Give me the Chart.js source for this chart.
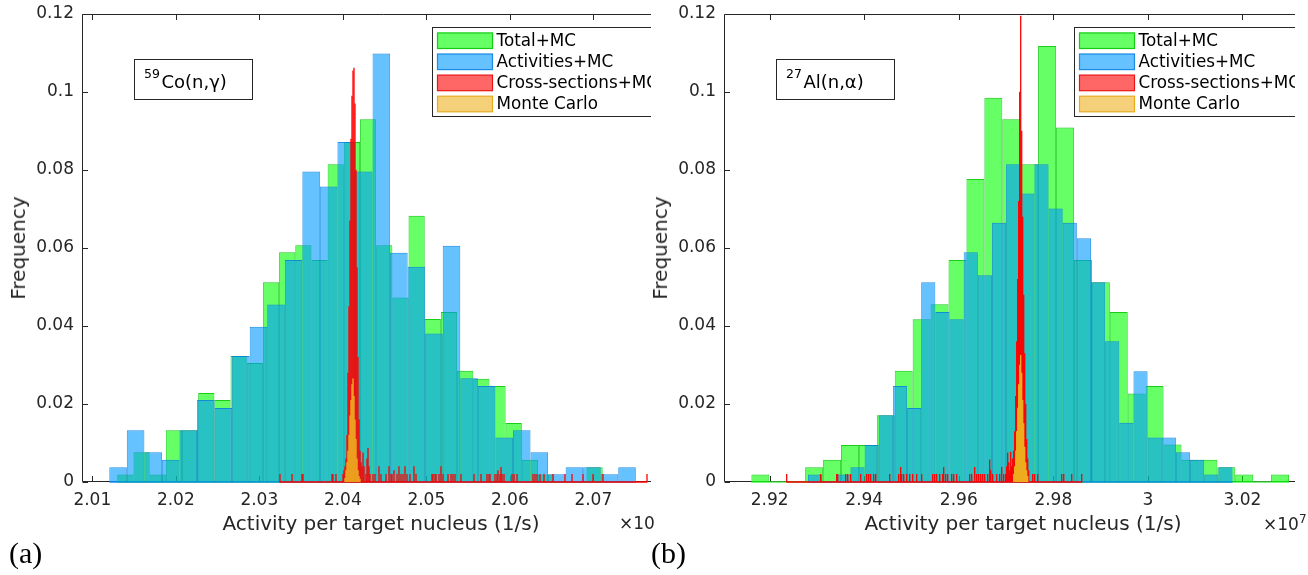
<!DOCTYPE html>
<html>
<head>
<meta charset="utf-8">
<title>Activity per target nucleus histograms</title>
<script src="https://cdn.jsdelivr.net/npm/chart.js@4.4.1/dist/chart.umd.min.js"></script>
<style>
html,body{margin:0;padding:0;background:#fff;width:1308px;height:575px;overflow:hidden;position:relative;font-family:"DejaVu Sans",sans-serif;color:#262626}
.panel{position:absolute;top:0;height:575px;overflow:hidden}
#pa{left:0;width:651px}
#pb{left:642px;width:653px}
canvas{display:block}
.ylab{position:absolute;font-size:20px;white-space:nowrap;transform:translate(-50%,-50%) rotate(-90deg)}
.xlab{position:absolute;font-size:20px;white-space:nowrap;transform:translate(-50%,-50%)}
.expo{position:absolute;font-size:17px;white-space:nowrap;transform:translateY(-50%)}
.expo sup{font-size:12px}
.tag{position:absolute;font-family:"Liberation Serif",serif;font-size:30px;color:#000;transform:translateY(-50%)}
</style>
</head>
<body>
<div class="panel" id="pa"><canvas id="ca" width="700" height="575"></canvas></div>
<div class="panel" id="pb"><canvas id="cb" width="700" height="575"></canvas></div>
<div class="ylab" style="left:18px;top:248px">Frequency</div>
<div class="ylab" style="left:660px;top:248px">Frequency</div>
<div class="xlab" style="left:381px;top:523px">Activity per target nucleus (1/s)</div>
<div class="xlab" style="left:1023px;top:523px">Activity per target nucleus (1/s)</div>
<div class="expo" style="left:619px;top:523px">×10</div>
<div class="expo" style="left:1263px;top:523px">×10<sup>7</sup></div>
<div class="tag" style="left:9px;top:553px">(a)</div>
<div class="tag" style="left:651px;top:553px">(b)</div>
<script>
// ---------------- DATA ----------------
const legendLabels = ['Total+MC', 'Activities+MC', 'Cross-sections+MC', 'Monte Carlo'];
const freqTicks = [0, 0.02, 0.04, 0.06, 0.08, 0.1, 0.12];

// Panel (a): 59Co(n,gamma)
const coXTicks = [2.01, 2.02, 2.03, 2.04, 2.05, 2.06, 2.07];
const coXRange = [2.008766, 2.080383];
const coTotalStart = 2.012994, coTotalWidth = 0.0019377;
const coTotalFreq = [0.0019, 0.0076, 0.0019, 0.0133, 0.0133, 0.0228, 0.0210, 0.0323, 0.0305, 0.0512,
                     0.0589, 0.0607, 0.0569, 0.0815, 0.0872, 0.0930, 0.0607, 0.0473, 0.0683, 0.0418,
                     0.0436, 0.0285, 0.0265, 0.0246, 0.0151, 0.0057, 0.0019, 0, 0, 0.0038];
const coActStart = 2.012036, coActWidth = 0.0021018;
const coActFreq = [0.0038, 0.0133, 0.0076, 0.0057, 0.0133, 0.0210, 0.0190, 0.0323, 0.0398, 0.0455,
                   0.0569, 0.0796, 0.0758, 0.0872, 0.0796, 0.1099, 0.0588, 0.0552, 0.0381, 0.0606,
                   0.0266, 0.0246, 0.0114, 0.0133, 0.0076, 0.0020, 0.0038, 0.0038, 0.0020, 0.0038];
const coFineStart = 2.032419, coFineWidth = 0.00011976;
const coXsBins = [[0,0.002],[12,0.002],[22,0.002],[23,0.002],[52,0.002],[53,0.002],[56,0.002],[63,0.002],[64,0.003],[65,0.004],
  [66,0.006],[67,0.012],[68,0.028],[69,0.045],[70,0.067],[71,0.088],[72,0.099],[73,0.1055],[74,0.1062],[75,0.097],
  [76,0.080],[77,0.055],[78,0.032],[79,0.016],[80,0.008],[81,0.005],[82,0.004],[83,0.0075],[84,0.004],[86,0.002],
  [87,0.006],[88,0.0087],[89,0.004],[90,0.002],[93,0.002],[95,0.002],[99,0.004],[101,0.002],[106,0.002],[109,0.004],
  [111,0.002],[112,0.002],[114,0.003],[117,0.002],[119,0.004],[121,0.002],[123,0.002],[125,0.004],[127,0.002],[130,0.002],
  [134,0.004],[136,0.002],[152,0.002],[153,0.002],[155,0.002],[156,0.002],[159,0.002],[161,0.004],[163,0.002],[168,0.002],
  [171,0.002],[173,0.002],[175,0.002],[181,0.002],[194,0.002],[201,0.002],[207,0.002],[209,0.002],[210,0.002],[215,0.002],
  [217,0.002],[218,0.003],[220,0.002],[221,0.0038],[222,0.002],[224,0.002],[232,0.002],[234,0.002],[237,0.002],[253,0.002],
  [255,0.002],[257,0.002],[260,0.002],[264,0.002],[273,0.002],[285,0.002],[292,0.002],[303,0.002],[313,0.002],[323,0.002],
  [367,0.002]];
const coMcFirstBin = 65;
const coMcFreq = [0.001, 0.003, 0.005, 0.008, 0.012, 0.017, 0.021, 0.025, 0.0265, 0.022, 0.016, 0.011, 0.006, 0.003, 0.0015, 0.0008];

// Panel (b): 27Al(n,alpha)
const alXTicks = [2.92, 2.94, 2.96, 2.98, 3.00, 3.02];
const alXRange = [2.910332, 3.036839];
const alTotalStart = 2.916129, alTotalWidth = 0.003791;
const alTotalFreq = [0.0019, 0, 0, 0.0038, 0.0057, 0.0095, 0.0095, 0.0171, 0.0285, 0.0417,
                     0.0456, 0.0569, 0.0777, 0.0985, 0.0930, 0.0815, 0.1118, 0.0909, 0.0569, 0.0512,
                     0.0436, 0.0227, 0.0246, 0.0096, 0.0057, 0.0057, 0.0038, 0.0019, 0, 0.0019];
const alActStart = 2.928102, alActWidth = 0.0029935;
const alActFreq = [0.0019, 0, 0.0019, 0.0038, 0.0095, 0.0171, 0.0246, 0.0190, 0.0512, 0.0436,
                   0.0417, 0.0589, 0.0530, 0.0665, 0.0815, 0.0740, 0.0815, 0.0701, 0.0665, 0.0625,
                   0.0512, 0.0361, 0.0152, 0.0284, 0.0114, 0.0114, 0.0076, 0.0057, 0.0019, 0.0038];
const alFineStart = 2.923491, alFineWidth = 0.00021155;
const alXsBins = [[0,0.002],[34,0.002],[50,0.002],[51,0.002],[59,0.002],[61,0.002],[64,0.002],[74,0.002],[80,0.002],[82,0.002],
  [84,0.002],[87,0.002],[89,0.002],[103,0.002],[112,0.002],[114,0.0038],[115,0.002],[117,0.002],[120,0.002],[123,0.002],
  [126,0.002],[130,0.002],[135,0.002],[146,0.002],[148,0.002],[150,0.002],[153,0.002],[156,0.002],[157,0.0038],[159,0.002],
  [161,0.002],[165,0.002],[167,0.002],[170,0.002],[183,0.002],[185,0.002],[188,0.0038],[190,0.002],[192,0.002],[194,0.002],
  [196,0.002],[198,0.002],[201,0.002],[203,0.0057],[204,0.003],[206,0.002],[210,0.002],[213,0.002],[215,0.0038],[217,0.002],
  [219,0.002],[220,0.004],[221,0.0075],[222,0.005],[223,0.003],[224,0.0077],[225,0.004],[226,0.006],[227,0.008],[228,0.013],
  [229,0.022],[230,0.036],[231,0.052],[232,0.072],[233,0.100],[234,0.1195],[235,0.090],[236,0.068],[237,0.048],[238,0.033],
  [239,0.020],[240,0.011],[241,0.006],[242,0.003],[246,0.002],[248,0.002],[251,0.002],[275,0.002],[277,0.002],[285,0.002],
  [295,0.002]];
const alMcFirstBin = 227;
const alMcFreq = [0.002, 0.004, 0.008, 0.013, 0.019, 0.025, 0.030, 0.0325, 0.028, 0.021, 0.015, 0.009, 0.005, 0.003, 0.0015];

// ---------------- STYLE ----------------
const AXIS = '#262626';
const COL = {
  green: {fill: 'rgba(0,255,0,0.6)', edge: 'rgba(0,200,0,0.9)'},
  blue:  {fill: 'rgba(0,153,255,0.6)', edge: 'rgba(10,130,225,0.9)'},
  red:   {fill: '#ff0000', legFill: 'rgba(255,0,0,0.6)', edge: 'rgb(235,20,20)'},
  orange:{fill: 'rgb(237,177,32)', legFill: 'rgba(237,177,32,0.6)', edge: 'rgb(232,172,30)'}
};
Chart.defaults.font.family = '"DejaVu Sans", sans-serif';
const fmt = v => String(Math.round(v * 100) / 100);

const axesPlugin = {
  id: 'matlabAxes',
  beforeDatasetsDraw(chart) {
    const {ctx, chartArea: ca} = chart;
    const x = chart.scales.x, y = chart.scales.y;
    const L = Math.round(ca.left) + 0.5, T = Math.round(ca.top) + 0.5, B = Math.round(ca.bottom) - 0.5;
    ctx.save();
    ctx.strokeStyle = AXIS; ctx.lineWidth = 1;
    ctx.beginPath();
    ctx.moveTo(ca.right + 5, T); ctx.lineTo(L, T); ctx.lineTo(L, B); ctx.lineTo(ca.right + 5, B);
    x.ticks.forEach(t => {
      const px = Math.round(x.getPixelForValue(t.value)) + 0.5;
      ctx.moveTo(px, B); ctx.lineTo(px, B - 5.5);
      ctx.moveTo(px, T); ctx.lineTo(px, T + 5.5);
    });
    y.ticks.forEach(t => {
      const py = Math.round(y.getPixelForValue(t.value)) + 0.5;
      ctx.moveTo(L, py); ctx.lineTo(L + 5.5, py);
    });
    ctx.stroke();
    ctx.restore();
  }
};

const decorPlugin = {
  id: 'decor',
  afterDatasetsDraw(chart, args, opts) {
    const {ctx, chartArea: ca} = chart;
    ctx.save();
    // annotation box
    const ax = Math.round(ca.left) + 52.5, ay = Math.round(ca.top) + 45.5;
    ctx.fillStyle = '#fff'; ctx.fillRect(ax, ay, 118, 40);
    ctx.strokeStyle = AXIS; ctx.lineWidth = 1; ctx.strokeRect(ax, ay, 118, 40);
    ctx.fillStyle = '#000'; ctx.textBaseline = 'alphabetic'; ctx.textAlign = 'left';
    ctx.font = '12.5px "DejaVu Sans"';
    ctx.fillText(opts.sup, ax + 9.5, ca.top + 64.3);
    const sw = ctx.measureText(opts.sup).width;
    ctx.font = '18px "DejaVu Sans"';
    ctx.fillText(opts.main, ax + 9.5 + sw + 1.5, ca.top + 73.5);
    // legend
    const lx = Math.round(ca.left) + 350.5, ly = Math.round(ca.top) + 13.5;
    ctx.fillStyle = '#fff'; ctx.fillRect(lx, ly, 270, 89);
    ctx.strokeStyle = AXIS; ctx.strokeRect(lx, ly, 270, 89);
    const entries = chart.data.datasets.filter(d => d.legendRow !== undefined).sort((a, b) => a.legendRow - b.legendRow);
    ctx.font = '16.8px "DejaVu Sans"'; ctx.textBaseline = 'middle';
    entries.forEach((d, i) => {
      const cy = ly + 13.2 + i * 21.1;
      ctx.fillStyle = d.legendFill; ctx.fillRect(lx + 5, cy - 7.8, 55, 15.6);
      ctx.strokeStyle = d.legendEdge; ctx.lineWidth = 1.2; ctx.strokeRect(lx + 5, cy - 7.8, 55, 15.6);
      ctx.fillStyle = '#000'; ctx.fillText(d.label, lx + 64, cy + 1);
    });
    ctx.restore();
  }
};

function makePanel(id, P) {
  const uniform = (start, width, freq) => freq.map((f, i) => ({x: start + (i + 0.5) * width, y: f}));
  const green = uniform(P.totalStart, P.totalWidth, P.totalFreq);
  const blue = uniform(P.actStart, P.actWidth, P.actFreq);
  const red = P.xsBins.map(([k, f]) => ({x: P.fineStart + (k + 0.5) * P.fineWidth, y: f}));
  const orange = P.mcFreq.map((f, i) => ({x: P.fineStart + (P.mcFirst + i + 0.5) * P.fineWidth, y: f}));
  const baseline = (a, b) => [{x: a, y: 0}, {x: b, y: 0}];
  const xsFirst = P.xsBins[0][0], xsLast = P.xsBins[P.xsBins.length - 1][0];
  const histBar = {type: 'bar', yAxisID: 'y', grouped: false, barPercentage: 1, categoryPercentage: 1, inflateAmount: 0,
                   borderSkipped: 'start', borderWidth: {top: 1, left: 0.8, right: 0.8, bottom: 0}};
  const fineBar = {type: 'bar', yAxisID: 'y', grouped: false, barPercentage: 1, categoryPercentage: 1, inflateAmount: 0.15, borderWidth: 0};
  const baseLine = {type: 'line', xAxisID: 'x', yAxisID: 'y', pointRadius: 0, borderWidth: 1.5, clip: false, fill: false};

  const datasets = [
    Object.assign({}, fineBar, {label: legendLabels[3], data: orange, xAxisID: 'xo', backgroundColor: COL.orange.fill,
      order: 0, legendRow: 3, legendFill: COL.orange.legFill, legendEdge: COL.orange.edge}),
    Object.assign({}, fineBar, {label: legendLabels[2], data: red, xAxisID: 'xr', backgroundColor: COL.red.fill,
      order: 1, legendRow: 2, legendFill: COL.red.legFill, legendEdge: COL.red.edge}),
    Object.assign({}, baseLine, {label: 'xs-base', data: baseline(P.fineStart + xsFirst * P.fineWidth, P.fineStart + (xsLast + 1) * P.fineWidth),
      borderColor: COL.red.fill, order: 2}),
    Object.assign({}, histBar, {label: legendLabels[1], data: blue, xAxisID: 'xb', backgroundColor: COL.blue.fill,
      borderColor: COL.blue.edge, order: 3, legendRow: 1, legendFill: COL.blue.fill, legendEdge: COL.blue.edge}),
    Object.assign({}, baseLine, {label: 'act-base', data: baseline(P.actStart, P.actStart + P.actFreq.length * P.actWidth),
      borderColor: COL.blue.edge, order: 4}),
    Object.assign({}, histBar, {label: legendLabels[0], data: green, xAxisID: 'xg', backgroundColor: COL.green.fill,
      borderColor: COL.green.edge, order: 5, legendRow: 0, legendFill: COL.green.fill, legendEdge: COL.green.edge}),
    Object.assign({}, baseLine, {label: 'tot-base', data: baseline(P.totalStart, P.totalStart + P.totalFreq.length * P.totalWidth),
      borderColor: 'rgba(60,235,60,0.9)', order: 6})
  ];
  const hidden = () => ({type: 'linear', display: false, min: P.xRange[0], max: P.xRange[1], offset: false,
    ticks: {display: false}, grid: {display: false}, afterBuildTicks: s => { s.ticks = []; }});
  const tickFont = {family: '"DejaVu Sans", sans-serif', size: 17};
  return new Chart(document.getElementById(id), {
    type: 'bar',
    data: {datasets},
    options: {
      responsive: false, animation: false, devicePixelRatio: 1, events: [],
      layout: {padding: {left: 0, top: 14, right: 20, bottom: 0}},
      scales: {
        x: {type: 'linear', position: 'bottom', min: P.xRange[0], max: P.xRange[1], offset: false,
          afterBuildTicks: s => { s.ticks = P.xTicks.map(v => ({value: v})); },
          afterFit: s => { s.height = 93; s.paddingLeft = 0; s.paddingRight = 0; },
          ticks: {autoSkip: false, maxRotation: 0, minRotation: 0, padding: 8, color: AXIS, font: tickFont, callback: v => fmt(v)},
          grid: {display: false, drawTicks: false}, border: {display: false}},
        xg: hidden(), xb: hidden(), xr: hidden(), xo: hidden(),
        y: {type: 'linear', position: 'left', min: 0, max: 0.12,
          afterBuildTicks: s => { s.ticks = freqTicks.map(v => ({value: v})); },
          afterFit: s => { s.width = 82; s.paddingTop = 0; s.paddingBottom = 0; },
          ticks: {padding: 8, color: AXIS, font: tickFont, callback: v => fmt(v)},
          grid: {display: false, drawTicks: false}, border: {display: false}}
      },
      plugins: {legend: {display: false}, tooltip: {enabled: false}, decor: {sup: P.sup, main: P.main}}
    },
    plugins: [axesPlugin, decorPlugin]
  });
}

makePanel('ca', {
  xRange: coXRange, xTicks: coXTicks,
  totalStart: coTotalStart, totalWidth: coTotalWidth, totalFreq: coTotalFreq,
  actStart: coActStart, actWidth: coActWidth, actFreq: coActFreq,
  fineStart: coFineStart, fineWidth: coFineWidth, xsBins: coXsBins, mcFirst: coMcFirstBin, mcFreq: coMcFreq,
  sup: '59', main: 'Co(n,γ)'
});
makePanel('cb', {
  xRange: alXRange, xTicks: alXTicks,
  totalStart: alTotalStart, totalWidth: alTotalWidth, totalFreq: alTotalFreq,
  actStart: alActStart, actWidth: alActWidth, actFreq: alActFreq,
  fineStart: alFineStart, fineWidth: alFineWidth, xsBins: alXsBins, mcFirst: alMcFirstBin, mcFreq: alMcFreq,
  sup: '27', main: 'Al(n,α)'
});
</script>
</body>
</html>
